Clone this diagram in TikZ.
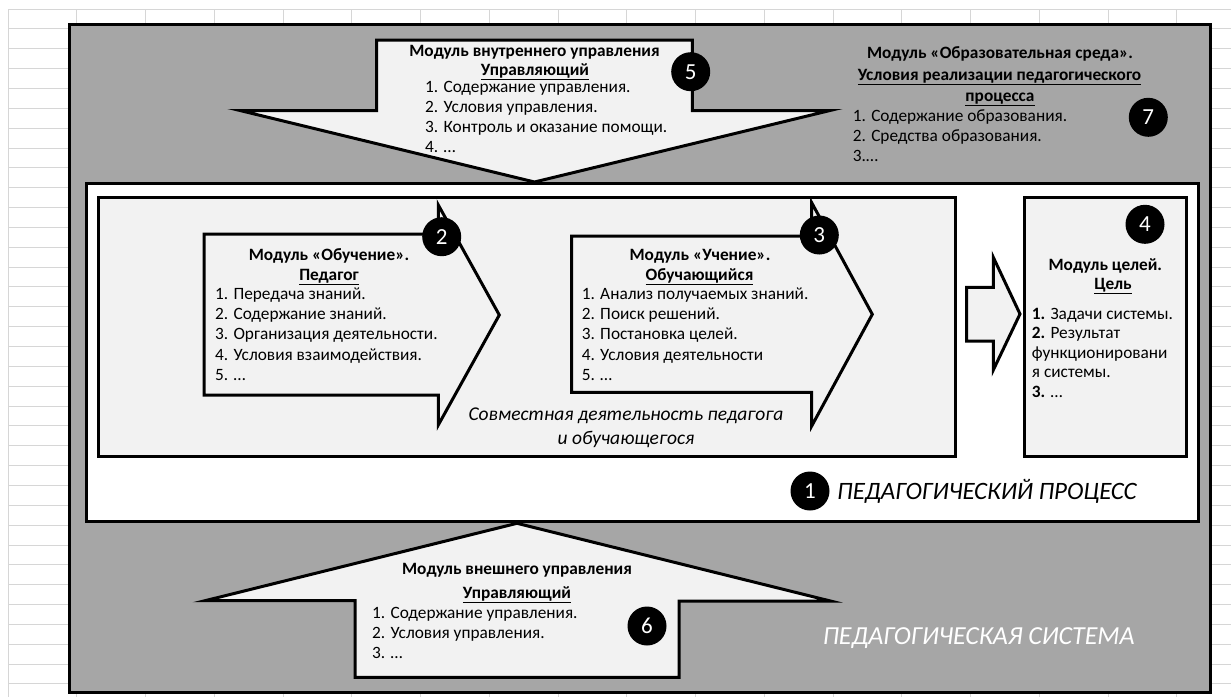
\documentclass[tikz,border=0pt]{standalone}
\usepackage{fontspec}
\setmainfont{Carlito}
\definecolor{sysgray}{HTML}{A6A6A6}
\definecolor{panel}{HTML}{F2F2F2}
\definecolor{gridline}{HTML}{D6D6D6}
\begin{document}
\begin{tikzpicture}[x=1pt,y=-1pt,
  gridrule/.style={draw=gridline,line width=0.9pt},
  frame/.style={draw=black,line width=3pt,line join=miter},
  blockarrow/.style={draw=black,fill=panel,line width=3pt,line join=miter},
  badge/.style={circle,fill=black,minimum size=39pt,inner sep=0pt,text=white,
    font=\fontsize{23}{23}\selectfont},
  head/.style={anchor=base,inner sep=0pt,font=\fontsize{17.3}{20}\selectfont\bfseries},
  item/.style={anchor=base west,inner sep=0pt,font=\fontsize{17.3}{20}\selectfont},
  note/.style={anchor=base,inner sep=0pt,font=\fontsize{19.5}{22}\selectfont\itshape},
  caption/.style={anchor=base west,inner sep=0pt,font=\fontsize{25}{28}\selectfont\itshape}]
\useasboundingbox (0,0) rectangle (1231,697);
\fill[white] (0,0) rectangle (1231,697);

% spreadsheet grid behind the scheme
\foreach \k in {0,...,17}
  \draw[gridrule] ({8+68.75*\k},9) -- ({8+68.75*\k},697);
\foreach \k in {0,...,34}
  \draw[gridrule] (8,{9+19.85*\k}) -- (1231,{9+19.85*\k});

% pedagogical system
\draw[frame,fill=sysgray] (69,24) rectangle (1210,692);

% module 5: internal management (arrow pointing down)
\draw[blockarrow] (376.7,40) -- (692.3,40) -- (692.3,110.5) -- (830,110.5)
  -- (534.5,182) -- (240,110.5) -- (376.7,110.5) -- cycle;

% pedagogical process
\draw[frame,fill=white] (86,183) rectangle (1198,521);
\draw[frame,fill=panel] (98,197) rectangle (955.7,456.5);

% module 2 and module 3 arrows
\draw[blockarrow] (204,234) -- (438.3,234) -- (438.3,205) -- (499.3,315)
  -- (438.3,425) -- (438.3,395) -- (204,395) -- cycle;
\draw[blockarrow] (571.7,236) -- (811.7,236) -- (811.7,202.7) -- (872.3,314.3)
  -- (811.7,426) -- (811.7,392.3) -- (571.7,392.3) -- cycle;

% arrow towards the goals module
\draw[blockarrow] (966.7,287.3) -- (993.3,287.3) -- (993.3,257.3) -- (1020,314)
  -- (993.3,370) -- (993.3,341) -- (966.7,341) -- cycle;

% module 4: goals
\draw[frame,fill=panel] (1024,197) rectangle (1186.7,456);

% module 6: external management (arrow pointing up)
\draw[blockarrow] (355,677.3) -- (355,600.7) -- (205,600.7) -- (517,523.3)
  -- (830.4,601) -- (679,601) -- (679,677.3) -- cycle;

% ---- texts of module 5
\node[head] (t5) at (534.5,56.5) {Модуль внутреннего управления};
\node[head] (s5) at (535,75.5) {\underline{Управляющий}};
\foreach \s [count=\i] in {{1. Содержание управления.},{2. Условия управления.},
    {3. Контроль и оказание помощи.},{4. …}}
  \node[item] (l5-\i) at (425,{92+20*(\i-1)}) {\s};

% ---- texts of module 7
\node[head] (t7) at (1000,58.5) {Модуль «Образовательная среда».};
\node[head] (s7a) at (999.5,80) {\underline{Условия реализации педагогического}};
\node[head] (s7b) at (1000,101) {\underline{процесса}};
\foreach \s [count=\i] in {{1. Содержание образования.},{2. Средства образования.},{3.…}}
  \node[item] (l7-\i) at (852.7,{121+20*(\i-1)}) {\s};

% ---- texts of module 2
\node[head] (t2) at (329,260) {Модуль «Обучение».};
\node[head] (s2) at (329,280) {\underline{Педагог}};
\foreach \s [count=\i] in {{1. Передача знаний.},{2. Содержание знаний.},
    {3. Организация деятельности.},{4. Условия взаимодействия.},{5. …}}
  \node[item] (l2-\i) at (215,{299.3+20.25*(\i-1)}) {\s};

% ---- texts of module 3
\node[head] (t3) at (700,260) {Модуль «Учение».};
\node[head] (s3) at (699.5,280) {\underline{Обучающийся}};
\foreach \s [count=\i] in {{1. Анализ получаемых знаний.},{2. Поиск решений.},
    {3. Постановка целей.},{4. Условия деятельности},{5. …}}
  \node[item] (l3-\i) at (581.7,{299.3+20.25*(\i-1)}) {\s};

% joint activity
\node[note] (joint1) at (626,420.5) {Совместная деятельность педагога};
\node[note] (joint2) at (626,444) {и обучающегося};

% ---- texts of module 4
\node[head] (t4) at (1105.3,270) {Модуль целей.};
\node[head] (s4) at (1113,289) {\underline{Цель}};
\foreach \s [count=\i] in {{\textbf{1.} Задачи системы.},{\textbf{2.} Результат},
    {функционировани},{я системы.},{\textbf{3.} …}}
  \node[item] (l4-\i) at (1031.7,{319+19.6*(\i-1)}) {\s};

% ---- texts of module 6
\node[head] (t6) at (517,574) {Модуль внешнего управления};
\node[head] (s6) at (517,598.3) {\underline{Управляющий}};
\foreach \s [count=\i] in {{1. Содержание управления.},{2. Условия управления.},{3. …}}
  \node[item] (l6-\i) at (372,{618.5+19.85*(\i-1)}) {\s};

% captions
\node[caption] (proc) at (837,499) {ПЕДАГОГИЧЕСКИЙ ПРОЦЕСС};
\node[caption,text=white,font=\fontsize{26}{28}\selectfont\itshape] (sys) at (822.6,644.5) {ПЕДАГОГИЧЕСКАЯ СИСТЕМА};

% numbered badges
\node[badge] (b1) at (810,491) {1};
\node[badge] (b2) at (441.7,236.7) {2};
\node[badge] (b3) at (819.3,235) {3};
\node[badge] (b4) at (1145,224.3) {4};
\node[badge] (b5) at (690.7,71.7) {5};
\node[badge] (b6) at (647,626) {6};
\node[badge] (b7) at (1148.3,117.3) {7};
\end{tikzpicture}
\end{document}
